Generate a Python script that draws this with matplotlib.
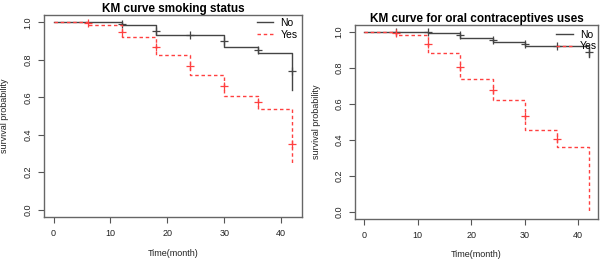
import matplotlib
matplotlib.use('Agg')
import matplotlib.pyplot as plt
from matplotlib.lines import Line2D

plt.rcParams['font.family'] = ['Liberation Sans', 'DejaVu Sans']

# smoking status
smk_no_t = [0, 12, 18, 30, 36, 42]
smk_no_s = [1.0, 0.986, 0.932, 0.870, 0.837, 0.64]
smk_no_ct = [12, 18, 24, 30, 36, 42]
smk_no_cs = [0.99, 0.955, 0.932, 0.90, 0.855, 0.74]

smk_yes_t = [0, 6, 12, 18, 24, 30, 36, 42]
smk_yes_s = [1.0, 0.989, 0.920, 0.825, 0.718, 0.606, 0.540, 0.246]
smk_yes_ct = [6, 12, 18, 24, 30, 36, 42]
smk_yes_cs = [0.995, 0.95, 0.87, 0.768, 0.661, 0.575, 0.35]

# oral contraceptives
oc_no_t = [0, 12, 18, 24, 30, 42]
oc_no_s = [1.0, 0.995, 0.968, 0.948, 0.925, 0.86]
oc_no_ct = [6, 12, 18, 24, 30, 36, 42]
oc_no_cs = [1.0, 1.0, 0.987, 0.959, 0.937, 0.925, 0.89]

oc_yes_t = [0, 6, 12, 18, 24, 30, 36, 42]
oc_yes_s = [1.0, 0.987, 0.884, 0.740, 0.622, 0.457, 0.362, 0.0]
oc_yes_ct = [6, 12, 18, 24, 30, 36]
oc_yes_cs = [0.996, 0.933, 0.806, 0.678, 0.536, 0.408]

groups = ['No', 'Yes']
xticks = [0, 10, 20, 30, 40]
yticks = [0.0, 0.2, 0.4, 0.6, 0.8, 1.0]

BLACK = '#444444'
RED = '#ff4040'
DASH = (2.5, 2)


def km_panel(ax, title, no, yes, legend_xy):
    nt, ns, nct, ncs = no
    yt, ys, yct, ycs = yes
    ax.step(nt, ns, where='post', color=BLACK, lw=1.0)
    ax.plot(nct, ncs, ls='none', marker='+', ms=6, mew=0.9, color=BLACK)
    ax.step(yt, ys, where='post', color=RED, lw=1.0, dashes=DASH)
    ax.plot(yct, ycs, ls='none', marker='+', ms=6, mew=0.9, color=RED)

    ax.set_xlim(-1.68, 43.68)
    ax.set_ylim(-0.04, 1.04)
    ax.set_xticks(xticks)
    ax.set_yticks(yticks)
    ax.set_xticklabels([str(x) for x in xticks])
    ax.set_yticklabels(['%.1f' % y for y in yticks], rotation=90, va='center')
    ax.tick_params(labelsize=6.5, length=4.3, width=0.8, color='#555555', pad=4,
                   labelcolor='#222222')
    for s in ax.spines.values():
        s.set_color('#666666')
        s.set_linewidth(1.0)
    ax.set_title(title, fontsize=8.5, fontweight='bold', pad=1.5)
    ax.set_xlabel('Time(month)', fontsize=6.5, color='#222222')
    ax.set_ylabel('survival probability', fontsize=6.5, color='#222222')
    handles = [Line2D([], [], color=BLACK, lw=1.0),
               Line2D([], [], color=RED, lw=1.0, dashes=DASH)]
    ax.legend(handles, groups, loc='upper left', bbox_to_anchor=legend_xy,
              frameon=False, fontsize=7.5, handlelength=1.6, handletextpad=0.7,
              labelspacing=0.15, borderaxespad=0, borderpad=0)


fig = plt.figure(figsize=(6, 2.6), dpi=100)
ax1 = fig.add_axes([0.0733, 0.1654, 0.43, 0.777])
ax2 = fig.add_axes([0.5917, 0.1577, 0.405, 0.746])

km_panel(ax1, 'KM curve smoking status',
         (smk_no_t, smk_no_s, smk_no_ct, smk_no_cs),
         (smk_yes_t, smk_yes_s, smk_yes_ct, smk_yes_cs), (0.824, 0.985))
km_panel(ax2, 'KM curve for oral contraceptives uses',
         (oc_no_t, oc_no_s, oc_no_ct, oc_no_cs),
         (oc_yes_t, oc_yes_s, oc_yes_ct, oc_yes_cs), (0.827, 0.975))

ax1.yaxis.set_label_coords(-0.136, 0.5)
ax2.yaxis.set_label_coords(-0.138, 0.5)
ax1.xaxis.set_label_coords(0.5, -0.16)
ax2.xaxis.set_label_coords(0.5, -0.16)

fig.savefig('out.png', dpi=100)
